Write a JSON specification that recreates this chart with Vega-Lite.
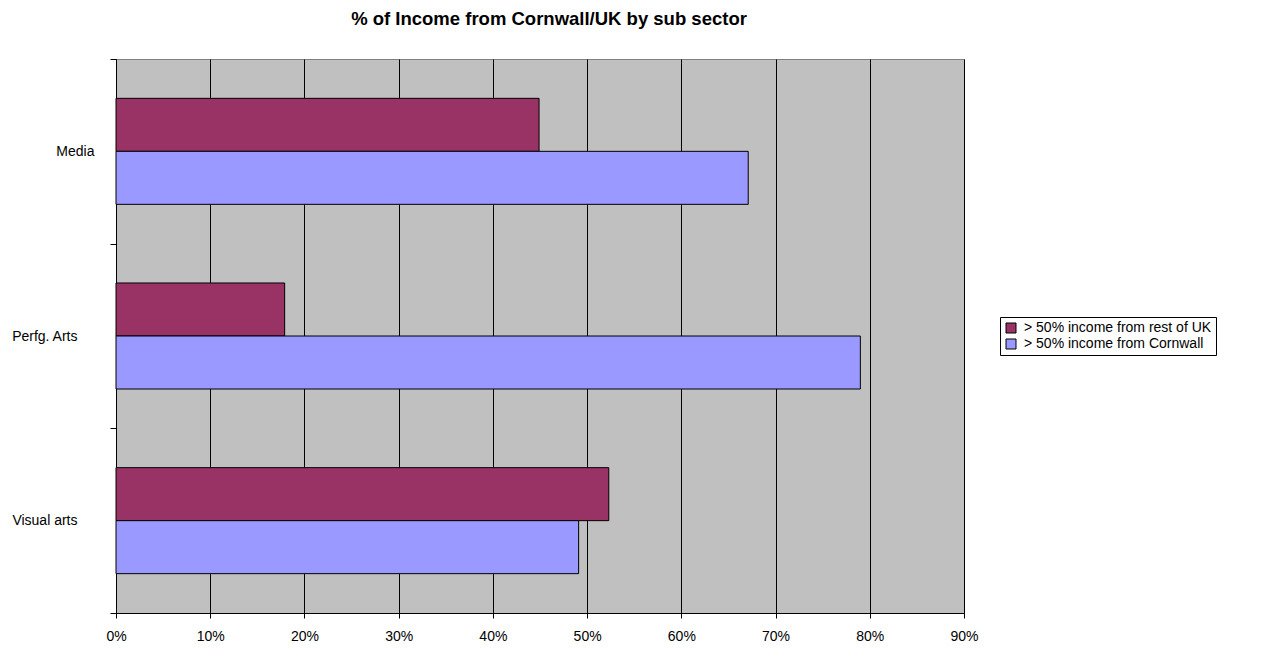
{
  "$schema": "https://vega.github.io/schema/vega-lite/v6.json",
  "autosize": {"type": "none"},
  "padding": {"left": 116, "top": 59, "right": 310, "bottom": 35},
  "width": 848,
  "height": 554,
  "background": "white",
  "title": {
    "text": "% of Income from Cornwall/UK by sub sector",
    "font": "Liberation Sans",
    "fontSize": 18.5,
    "fontWeight": "bold",
    "color": "black",
    "anchor": "middle",
    "dx": 9,
    "offset": 24
  },
  "data": {
    "values": [
      {"sector": "Media", "series": "> 50% income from rest of UK", "share": 0.449},
      {"sector": "Media", "series": "> 50% income from Cornwall", "share": 0.671},
      {"sector": "Perfg. Arts", "series": "> 50% income from rest of UK", "share": 0.179},
      {"sector": "Perfg. Arts", "series": "> 50% income from Cornwall", "share": 0.790},
      {"sector": "Visual arts", "series": "> 50% income from rest of UK", "share": 0.523},
      {"sector": "Visual arts", "series": "> 50% income from Cornwall", "share": 0.491}
    ]
  },
  "mark": {"type": "bar", "stroke": "black", "strokeWidth": 1, "cornerRadius": 0},
  "encoding": {
    "y": {
      "field": "sector",
      "type": "nominal",
      "sort": ["Media", "Perfg. Arts", "Visual arts"],
      "scale": {"paddingInner": 0, "paddingOuter": 0},
      "axis": {
        "title": null,
        "tickBand": "extent",
        "tickSize": 6,
        "tickColor": "black",
        "domainColor": "black",
        "labelFont": "Liberation Sans",
        "labelFontSize": 14,
        "labelColor": "black",
        "labelAlign": "right",
        "labelPadding": {"condition": {"test": "datum.value == 'Media'", "value": 16}, "value": 33},
        "grid": false
      }
    },
    "yOffset": {
      "field": "series",
      "type": "nominal",
      "sort": ["> 50% income from rest of UK", "> 50% income from Cornwall"],
      "scale": {"paddingInner": 0, "paddingOuter": 0.742}
    },
    "x": {
      "field": "share",
      "type": "quantitative",
      "scale": {"domain": [0, 0.9], "nice": false},
      "axis": {
        "title": null,
        "values": [0, 0.1, 0.2, 0.3, 0.4, 0.5, 0.6, 0.7, 0.8, 0.9],
        "format": ".0%",
        "grid": true,
        "gridColor": "black",
        "gridOpacity": 1,
        "gridWidth": 1,
        "tickSize": 5,
        "tickColor": "black",
        "domainColor": "black",
        "labelFont": "Liberation Sans",
        "labelFontSize": 14,
        "labelColor": "black",
        "labelFlush": false,
        "labelPadding": 11
      }
    },
    "color": {
      "field": "series",
      "type": "nominal",
      "sort": ["> 50% income from rest of UK", "> 50% income from Cornwall"],
      "scale": {
        "domain": ["> 50% income from rest of UK", "> 50% income from Cornwall"],
        "range": ["#993366", "#9999FF"]
      },
      "legend": {
        "title": null,
        "orient": "none",
        "legendX": 884,
        "legendY": 258,
        "strokeColor": "black",
        "fillColor": "white",
        "padding": 4,
        "symbolType": "square",
        "symbolSize": 100,
        "symbolStrokeColor": "black",
        "symbolStrokeWidth": 1,
        "symbolOpacity": 1,
        "labelFont": "Liberation Sans",
        "labelFontSize": 14,
        "labelColor": "black",
        "labelLimit": 400,
        "labelOffset": 6,
        "rowPadding": 2
      }
    }
  },
  "config": {
    "view": {"fill": "#C0C0C0", "stroke": "#808080", "strokeWidth": 1}
  }
}
